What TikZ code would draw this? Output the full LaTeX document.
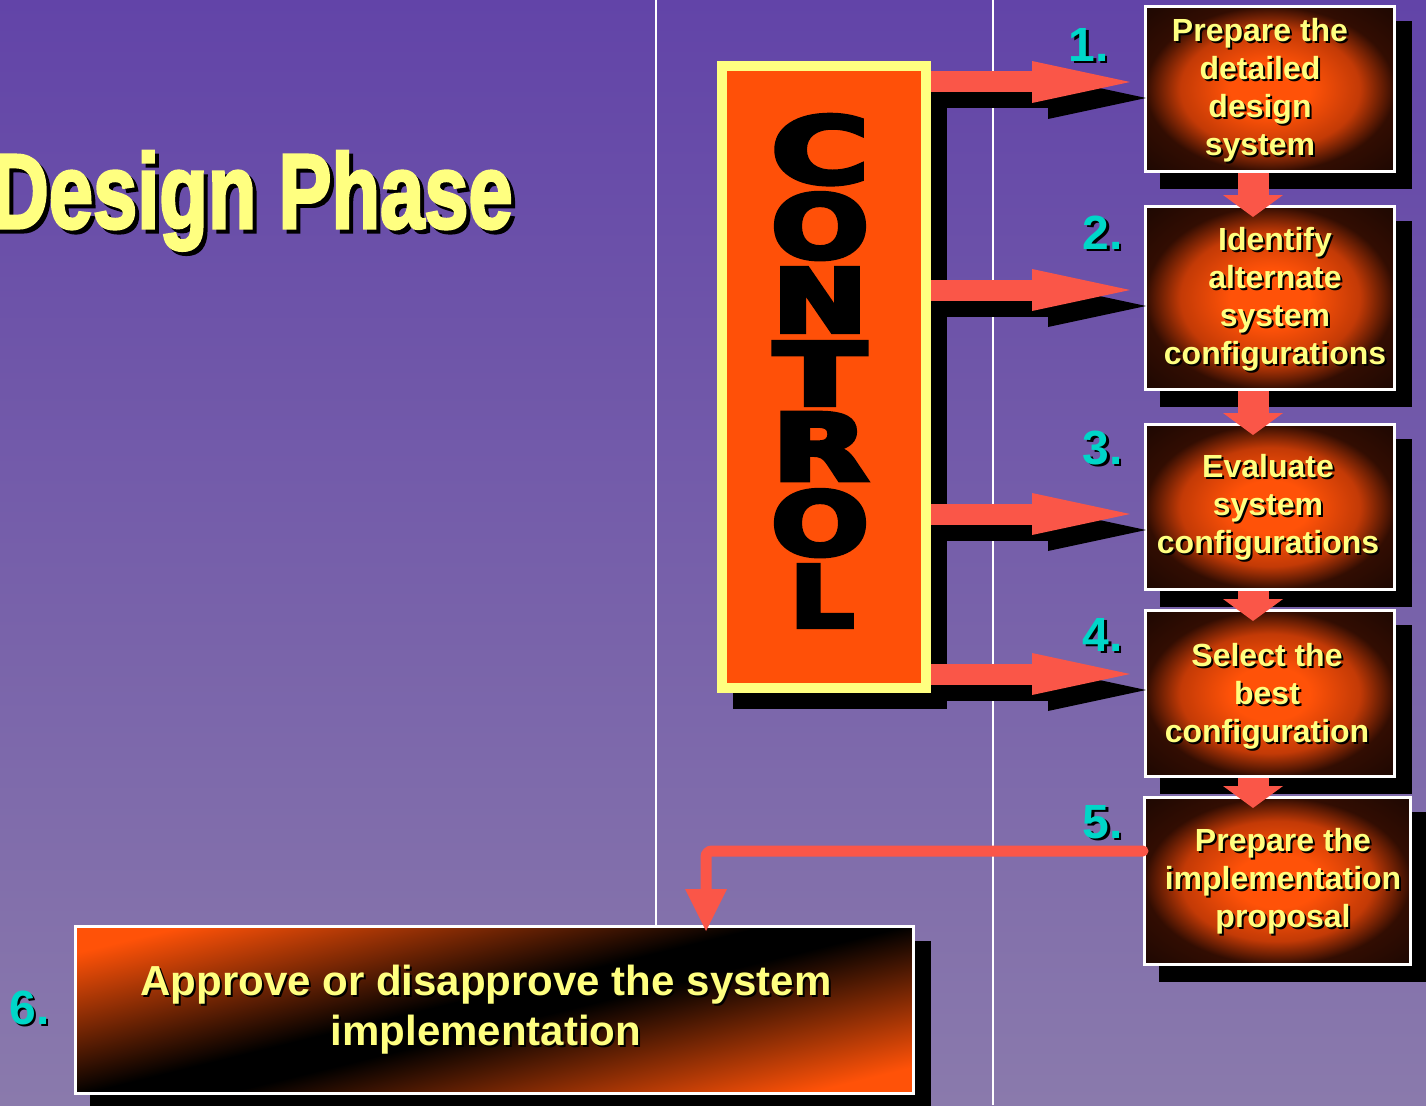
\documentclass[tikz,border=0pt]{standalone}
\usepackage{fontspec}
\usepackage{graphicx}
\setmainfont{Liberation Sans}
\newfontfamily\ctrlfont[FakeBold=5]{DejaVu Sans Bold}
\newfontfamily\headfont[FakeBold=3]{Liberation Sans Bold}
\usetikzlibrary{arrows.meta,shadows}

\definecolor{bgtop}{RGB}{98,68,168}
\definecolor{bgbot}{RGB}{138,122,172}
\definecolor{boxorange}{RGB}{255,82,8}
\definecolor{boxmid}{RGB}{195,58,6}
\definecolor{boxedge}{RGB}{50,13,2}
\definecolor{boxdark}{RGB}{30,8,2}
\definecolor{ctrlorange}{RGB}{255,80,8}
\definecolor{ctrlyellow}{RGB}{255,255,128}
\definecolor{flowred}{RGB}{250,86,72}
\definecolor{labelyellow}{RGB}{255,255,128}
\definecolor{numcyan}{RGB}{0,214,200}

\pgfdeclareradialshading{stepglow}{\pgfpoint{0bp}{0bp}}{%
  color(0bp)=(boxorange); color(8bp)=(boxorange); color(18bp)=(boxmid);
  color(25bp)=(boxedge); color(35bp)=(boxdark); color(50bp)=(boxdark)}
% orange on both sides of a narrow black band through the middle
\pgfdeclareverticalshading{diagband}{100bp}{%
  color(0bp)=(boxorange); color(43.5bp)=(boxorange); color(49.3bp)=(black);
  color(50.7bp)=(black); color(56.5bp)=(boxorange); color(100bp)=(boxorange)}

% text with a hard black drop shadow: style, name, position, offset, text
\newcommand\shadowed[5]{%
  \node[#1, text=black] (#2-sh) at ([shift={(#4pt,-#4pt)}]#3) {#5};
  \node[#1] (#2) at (#3) {#5};}
% one letter of the vertical CONTROL banner: name, letter, baseline, width, height
\newcommand\ctrlletter[5]{%
  \node[ctrlglyph] (#1) at (820,#3) {\resizebox{#4pt}{#5pt}{\ctrlfont #2}};}

\tikzset{
  hardshadow/.style={drop shadow={shadow xshift=16pt, shadow yshift=-16pt,
      opacity=1, fill=black, draw=black}},
  ctrlbox/.style={rectangle, draw=ctrlyellow, fill=ctrlorange, line width=10pt,
      minimum width=204pt, minimum height=622pt, inner sep=0pt, hardshadow},
  ctrlglyph/.style={anchor=base, inner sep=0pt, text=black},
  stepbox/.style={rectangle, draw=white, line width=3pt, shade, shading=stepglow,
      inner sep=0pt, hardshadow},
  % the band runs from the lower left to the upper right of the box
  finalbox/.style={rectangle, draw=white, line width=3pt, fill=boxorange,
      inner sep=0pt, hardshadow,
      path picture={\shade[shading=diagband, shading angle=13.8]
          (-600,-600) rectangle (600,600);}},
  steptext/.style={align=center, inner sep=0pt, text=labelyellow,
      font=\fontsize{32}{38}\selectfont\bfseries},
  finaltext/.style={align=center, inner sep=0pt, text=labelyellow,
      font=\fontsize{42}{50}\selectfont\bfseries},
  numtext/.style={inner sep=0pt, text=numcyan,
      font=\fontsize{48}{48}\selectfont\bfseries},
  headtext/.style={anchor=base east, inner sep=0pt, text=labelyellow,
      font=\headfont\fontsize{106}{106}\selectfont},
  feedarrow/.style={line width=21pt,
      -{Triangle[length=98pt,width=42pt,line width=0pt 0]}, shorten >=14pt},
  downarrow/.style={flowred, line width=31pt,
      -{Triangle[length=22pt,width=60pt,line width=0pt 0]}, shorten >=-12pt},
  handoff/.style={flowred, line width=11pt, line cap=round, rounded corners=6pt,
      -{Triangle[length=42pt,width=42pt,line width=0pt 0]}, shorten >=-6pt},
  divider/.style={white, line width=2pt},
}

\begin{document}
\begin{tikzpicture}[x=1pt,y=-1pt]
\useasboundingbox (0,0) rectangle (1426,1105);
\clip (0,0) rectangle (1426,1105);

% backdrop and column rules
\shade[top color=bgtop, bottom color=bgbot] (0,0) rectangle (1426,1105);
\draw[divider] (656,0) -- (656,1105);
\draw[divider] (993,0) -- (993,1105);

% heading
\shadowed{headtext}{title}{513,228}{4}{\scalebox{0.75}[1]{Design Phase}}

% control banner
\node[ctrlbox] (ctrl) at (824,377) {};
\ctrlletter{lc}{C}{183}{98}{68}
\ctrlletter{lo}{O}{258}{98}{65}
\ctrlletter{ln}{N}{332}{95}{64}
\ctrlletter{lt}{T}{405}{92}{63}
\ctrlletter{lr}{R}{480}{96}{67}
\ctrlletter{lo2}{O}{555}{98}{65}
\node[ctrlglyph] (ll) at (822,627) {\resizebox{64pt}{62pt}{\ctrlfont L}};

% process steps
\node[stepbox, minimum width=249pt, minimum height=165pt] (s1) at (1270,89) {};
\node[stepbox, minimum width=249pt, minimum height=183pt] (s2) at (1270,298) {};
\node[stepbox, minimum width=249pt, minimum height=165pt] (s3) at (1270,507) {};
\node[stepbox, minimum width=249pt, minimum height=166pt] (s4) at (1270,693.5) {};
\node[stepbox, minimum width=266pt, minimum height=167pt] (s5) at (1277.5,881) {};
\node[finalbox, minimum width=838pt, minimum height=167pt] (s6) at (494.5,1010) {};

\shadowed{steptext}{t1}{1260,90}{2}{Prepare the\\detailed\\design\\system}
\shadowed{steptext}{t2}{1275,299}{2}{Identify\\alternate\\system\\configurations}
\shadowed{steptext}{t3}{1268,507}{2}{Evaluate\\system\\configurations}
\shadowed{steptext}{t4}{1267,696}{2}{Select the\\best\\configuration}
\shadowed{steptext}{t5}{1283,881}{2}{Prepare the\\implementation\\proposal}
\shadowed{finaltext}{t6}{486,1010}{2}{Approve or disapprove the system\\implementation}

% step numbers
\shadowed{numtext}{n1}{1089,45}{2}{1.}
\shadowed{numtext}{n2}{1103,233}{2}{2.}
\shadowed{numtext}{n3}{1103,448}{2}{3.}
\shadowed{numtext}{n4}{1103,635}{2}{4.}
\shadowed{numtext}{n5}{1103,822}{2}{5.}
\shadowed{numtext}{n6}{30,1008}{2}{6.}

% control feeds into the first four steps
\foreach \y/\s in {82/s1, 290/s2, 514/s3, 674/s4} {
  \draw[feedarrow, black, transform canvas={xshift=16pt, yshift=-16pt}]
    (ctrl.east |- 0,\y) -- (\s.west |- 0,\y);
  \draw[feedarrow, flowred] (ctrl.east |- 0,\y) -- (\s.west |- 0,\y);
}

% step-to-step flow
\coordinate (d1) at ([xshift=-17pt]s1.south);
\coordinate (d2) at ([xshift=-17pt]s2.south);
\coordinate (d3) at ([xshift=-17pt]s3.south);
\coordinate (d4) at ([xshift=-17pt]s4.south);
\draw[downarrow] (d1) -- (d1 |- s2.north);
\draw[downarrow] (d2) -- (d2 |- s3.north);
\draw[downarrow] (d3) -- (d3 |- s4.north);
\draw[downarrow] (d4) -- (d4 |- s5.north);
\draw[handoff] ([yshift=30pt]s5.west) -| ([xshift=211.5pt]s6.north);
\end{tikzpicture}
\end{document}
